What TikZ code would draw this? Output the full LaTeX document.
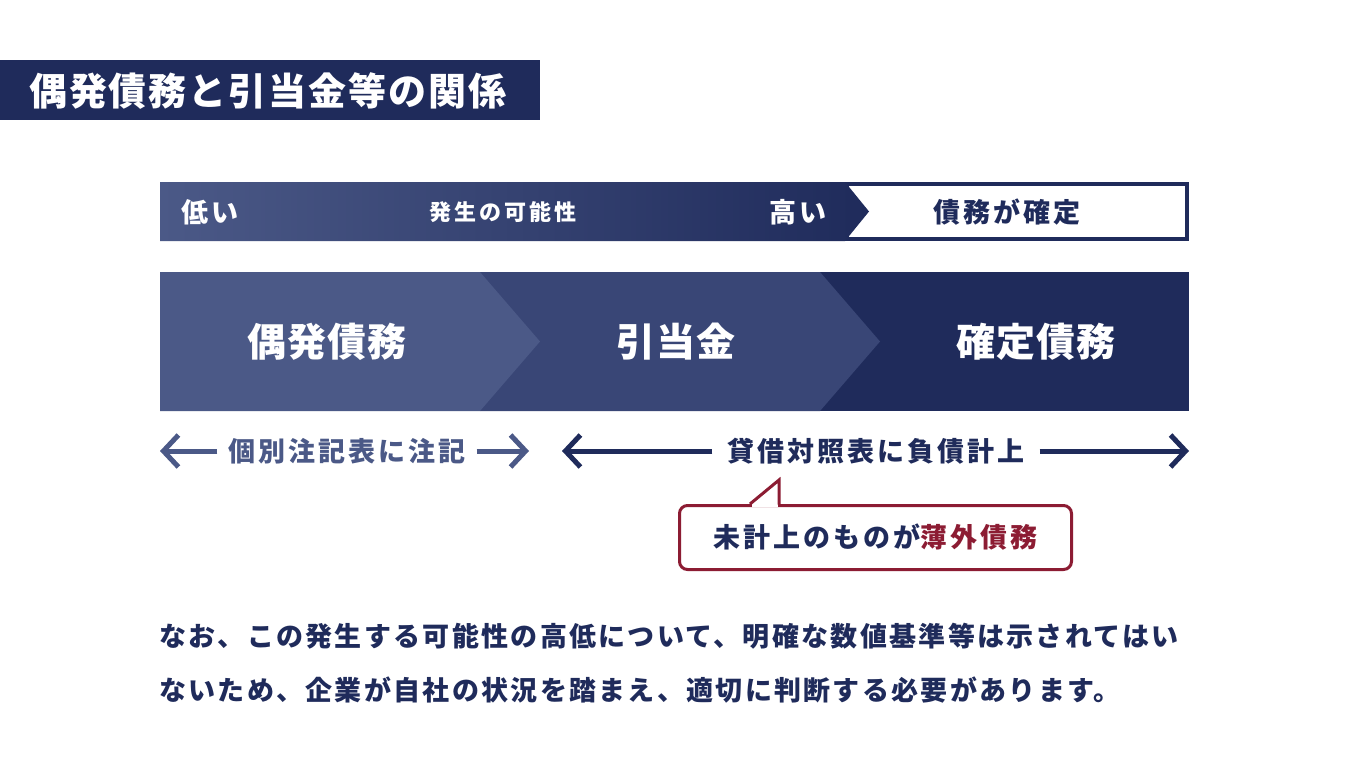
\documentclass[tikz,border=0pt]{standalone}
\usepackage{fontspec}
\usetikzlibrary{arrows.meta}
\newfontfamily\jpT{Noto Sans CJK JP}[LetterSpace=5]
\newfontfamily\jpA{Noto Sans CJK JP}[LetterSpace=11]
\newfontfamily\jpP{Noto Sans CJK JP}[LetterSpace=8.5]
\newfontfamily\jpS{Noto Sans CJK JP}[LetterSpace=13]
\newfontfamily\jpC{Noto Sans CJK JP}[LetterSpace=3]
\definecolor{navy}{HTML}{1F2B5B}
\definecolor{midb}{HTML}{394676}
\definecolor{lightb}{HTML}{4B5987}
\definecolor{wine}{HTML}{8C1C33}
\begin{document}
\begin{tikzpicture}[x=1pt,y=-1pt,
  txt/.style={font=\jpA\bfseries\fontsize{27}{31}\selectfont, inner sep=0pt},
  ptxt/.style={font=\jpP\bfseries\fontsize{27}{31}\selectfont, inner sep=0pt, text=navy},
  smalltxt/.style={font=\jpS\bfseries\fontsize{22}{26}\selectfont, inner sep=0pt},
  bigtxt/.style={font=\jpC\bfseries\fontsize{39}{44}\selectfont, inner sep=0pt, text=white},
  arrL/.style={line width=5pt, lightb, -{Straight Barb[length=15pt,width=32pt]}},
  arrD/.style={line width=5pt, navy, -{Straight Barb[length=15pt,width=32pt]}}]
\useasboundingbox (0,0) rectangle (1350,760);
\fill[white] (0,0) rectangle (1350,760);

% title
\fill[navy] (0,60) rectangle (540,120);
\node[anchor=west, inner sep=0pt, text=white, font=\jpT\bfseries\fontsize{38}{42}\selectfont] (title) at (29,91) {偶発債務と引当金等の関係};

% likelihood bar
\draw[navy, line width=4pt] (847,184) rectangle (1187,239);
\shade[left color=lightb, right color=navy] (160,182) -- (845,182) -- (869,211.5) -- (845,241) -- (160,241) -- cycle;
\node[txt, text=white, anchor=west] (low) at (181,212) {低い};
\node[smalltxt, text=white] (poss) at (503,212) {発生の可能性};
\node[txt, text=white] (high) at (798,212) {高い};
\node[txt, text=navy] (fixed) at (1007,212) {債務が確定};

% chevrons
\fill[navy] (820,272) rectangle (1189,411);
\fill[midb] (480,272) -- (820,272) -- (880,341.5) -- (820,411) -- (480,411) -- cycle;
\fill[lightb] (160,272) -- (480,272) -- (540,341.5) -- (480,411) -- (160,411) -- cycle;
\node[bigtxt] (c1) at (327,342) {偶発債務};
\node[bigtxt] (c2) at (676,342) {引当金};
\node[bigtxt] (c3) at (1036,342) {確定債務};

% arrows row
\coordinate (l1) at (160,451);
\coordinate (r1) at (529,451);
\coordinate (l2) at (562,451);
\coordinate (r2) at (1189,451);
\node[txt, text=lightb, inner xsep=11pt] (note) at (347,451) {個別注記表に注記};
\node[txt, text=navy, inner xsep=15pt] (bs) at (876,451) {貸借対照表に負債計上};
\draw[arrL] (note.west) -- (l1);
\draw[arrL] (note.east) -- (r1);
\draw[arrD] (bs.west) -- (l2);
\draw[arrD] (bs.east) -- (r2);

% callout
\node[draw=wine, line width=3pt, rounded corners=8pt, fill=white, minimum width=392pt, minimum height=64pt, inner sep=0pt, txt, text=navy] (callout) at (875.5,537.5) {未計上のものが\textcolor{wine}{薄外債務}};
\fill[white] (752,501) rectangle (777.5,507);
\draw[wine, line width=3pt, line join=miter] (750,504) -- (779,480) -- (779,504.5);

% bottom text
\node[ptxt, anchor=west] (p1) at (159,636) {なお、この発生する可能性の高低について、明確な数値基準等は示されてはい};
\node[ptxt, anchor=west] (p2) at (159,690) {ないため、企業が自社の状況を踏まえ、適切に判断する必要があります。};
\end{tikzpicture}
\end{document}
